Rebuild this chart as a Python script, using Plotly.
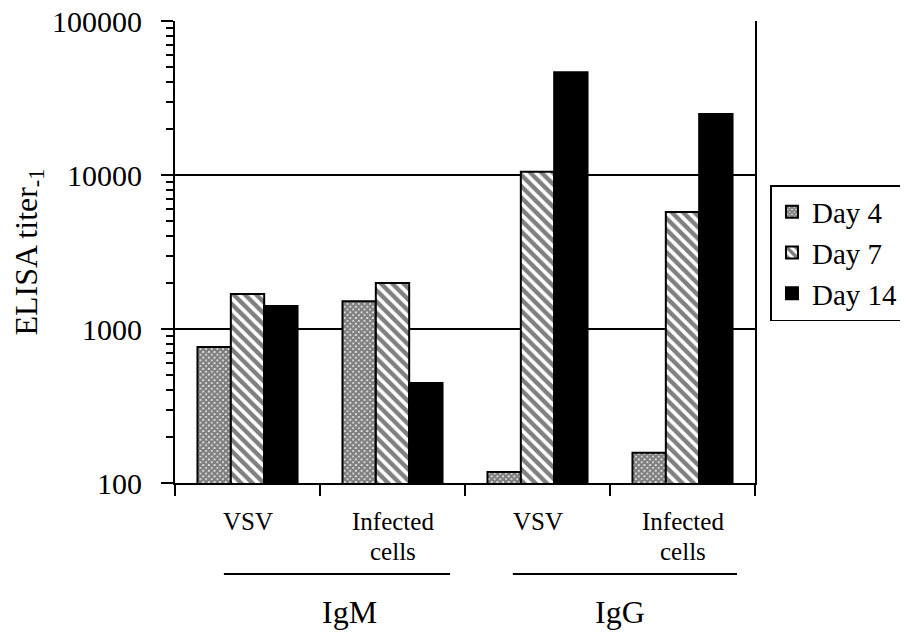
import plotly.graph_objects as go

categories = ["IgM VSV", "IgM Infected", "IgG VSV", "IgG Infected"]
label_line1 = ["VSV", "Infected", "VSV", "Infected"]
label_line2 = ["", "cells", "", "cells"]
group_labels = ["IgM", "IgG"]
series_names = ["Day 4", "Day 7", "Day 14"]
day4 = [764, 1515, 118, 157]
day7 = [1690, 1990, 10500, 5750]
day14 = [1410, 446, 46500, 24900]
y_ticks = [100, 1000, 10000, 100000]
grid_vals = [1000, 10000]

FONT = "Liberation Serif, Times New Roman, serif"

patterns = [
    dict(shape="x", size=4, solidity=0.85, fgcolor="black", bgcolor="white"),
    dict(shape="\\", size=8, solidity=0.55, fgcolor="black", bgcolor="white"),
    dict(shape="", fgcolor="black", bgcolor="black"),
]
colors = ["white", "white", "black"]

fig = go.Figure()
for name, vals, pat, col in zip(series_names, [day4, day7, day14], patterns, colors):
    fig.add_trace(go.Bar(
        x=categories, y=vals, name=name,
        marker=dict(color=col, pattern=pat, line=dict(color="black", width=2)),
    ))

# horizontal grid lines (behind bars)
for v in grid_vals:
    fig.add_shape(type="line", xref="paper", yref="y", x0=0, x1=1, y0=v, y1=v,
                  line=dict(color="black", width=2), layer="below")

# category labels (two lines)
for cat, l1, l2 in zip(categories, label_line1, label_line2):
    fig.add_annotation(x=cat, y=-0.084, xref="x", yref="paper", text=l1,
                       showarrow=False, yanchor="middle",
                       font=dict(family=FONT, size=25, color="black"))
    if l2:
        fig.add_annotation(x=cat, y=-0.149, xref="x", yref="paper", text=l2,
                           showarrow=False, yanchor="middle",
                           font=dict(family=FONT, size=25, color="black"))

# group underlines and labels
line_spans = [(-0.163, 1.397), (1.83, 3.376)]
label_pos = [0.7, 2.57]
for g, (a, b), p in zip(group_labels, line_spans, label_pos):
    fig.add_shape(type="line", xref="x", yref="paper",
                  x0=a, x1=b, y0=-0.197, y1=-0.197,
                  line=dict(color="black", width=2))
    fig.add_annotation(x=p, y=-0.279, xref="x", yref="paper", text=g,
                       showarrow=False, yanchor="middle",
                       font=dict(family=FONT, size=32, color="black"))

fig.update_layout(
    width=908, height=634,
    margin=dict(l=167, r=159, t=13, b=159),
    paper_bgcolor="white", plot_bgcolor="white",
    barmode="group", bargap=0.31, bargroupgap=0,
    font=dict(family=FONT, color="black"),
    showlegend=True,
    legend=dict(x=1.2577, y=0.645, xanchor="right", yanchor="top",
                bordercolor="black", borderwidth=1.5,
                font=dict(family=FONT, size=29, color="black"),
                itemwidth=30, tracegroupgap=0),
    xaxis=dict(showline=True, linecolor="black", linewidth=2,
               ticks="outside", ticklen=11, tickwidth=2, tickcolor="black",
               tickson="boundaries", showticklabels=False, showgrid=False,
               mirror=False, automargin=False),
    yaxis=dict(type="log", range=[2, 5], tickvals=y_ticks,
               ticktext=[str(v) for v in y_ticks],
               showline=True, linecolor="black", linewidth=2, mirror=True,
               ticks="outside", ticklen=12, tickwidth=2, tickcolor="black",
               showgrid=False, zeroline=False, automargin=False,
               ticklabelstandoff=13, ticklabeloverflow="allow",
               tickfont=dict(family=FONT, size=30, color="black"),
               minor=dict(ticks="outside", ticklen=7, tickwidth=1.5,
                          tickcolor="black", dtick="D1", showgrid=False),
               title=dict(text="ELISA titer<sub>-1</sub>", standoff=16,
                          font=dict(family=FONT, size=32, color="black"))),
)

fig.write_html("out.html")
